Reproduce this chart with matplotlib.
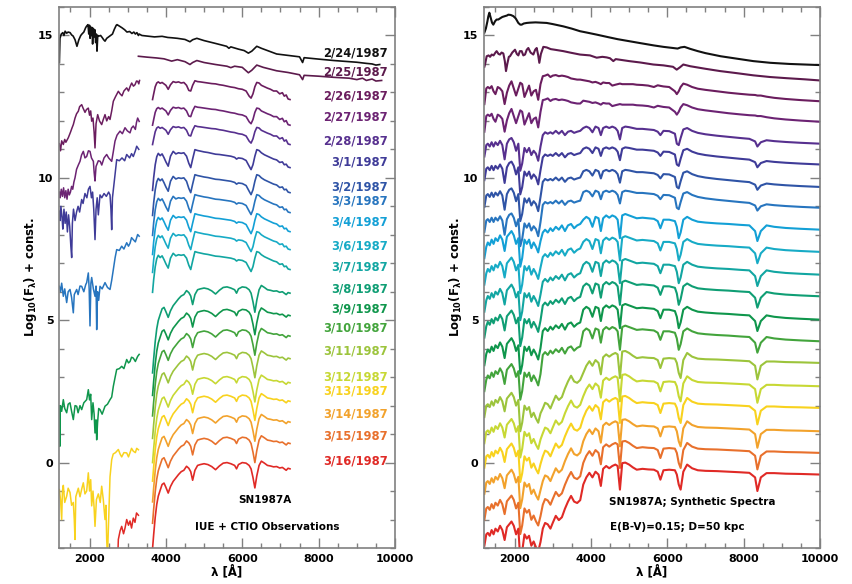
import numpy as np
import matplotlib.pyplot as plt
from matplotlib.ticker import MultipleLocator

# ---------------- epochs, colours, label positions ----------------
dates = ['2/24/1987', '2/25/1987', '2/26/1987', '2/27/1987', '2/28/1987',
         '3/1/1987', '3/2/1987', '3/3/1987', '3/4/1987', '3/6/1987',
         '3/7/1987', '3/8/1987', '3/9/1987', '3/10/1987', '3/11/1987',
         '3/12/1987', '3/13/1987', '3/14/1987', '3/15/1987', '3/16/1987']
colors = ['#111111', '#5c1a4c', '#6b1d5e', '#6c2373', '#57308f',
          '#3f3b98', '#2f54a6', '#2775bf', '#13a0d6', '#17abc6',
          '#12a6a2', '#0f9e74', '#0f964c', '#43a43c', '#9cc43c',
          '#c7d834', '#f8d21e', '#f2a22c', '#e8702c', '#e02a26']
label_y = [14.37, 13.73, 12.89, 12.12, 11.31, 10.54, 9.69, 9.17, 8.46, 7.59,
           6.88, 6.08, 5.41, 4.71, 3.93, 3.02, 2.53, 1.69, 0.95, 0.04]

# ---------------- left panel: IUE + CTIO observations ----------------
obs_0224_wave = [1210, 1225, 1260, 1300, 1330, 1360, 1400, 1440, 1490, 1530, 1570, 1620, 1670,
                 1720, 1770, 1800, 1850, 1900, 1930, 1960, 1980, 2000, 2015, 2030, 2050, 2064,
                 2080, 2100, 2120, 2140, 2160, 2180, 2195, 2215, 2250, 2290, 2330, 2370, 2405,
                 2450, 2500, 2550, 2600, 2650, 2700, 2720, 2780, 2850, 2920, 2980, 3050, 3110,
                 3160, 3200, 3240, 3280, 3300, 3370, 3500, 3700, 3900, 4050, 4150, 4300, 4500,
                 4630, 4700, 4810, 5000, 5300, 5590, 5650, 5700, 5900, 6050, 6160, 6250, 6380,
                 6500, 6700, 6900, 7200, 7500, 7580, 7620, 8000, 8400, 8800, 9000, 9250, 9400,
                 9500, 9600]
obs_0224_flux = [14.05, 14.9, 15.05, 15.1, 15.0, 15.15, 15.08, 15.12, 15.1, 15.02, 14.98, 14.85, 14.62,
                 14.85, 15.0, 15.05, 15.12, 15.28, 15.34, 15.38, 15.05, 15.36, 14.9, 15.3, 15.0, 15.28,
                 14.7, 15.25, 14.95, 15.2, 14.75, 15.05, 14.45, 15.0, 14.98, 15.0, 14.93, 14.85, 14.8,
                 14.9, 14.95, 15.0, 15.05, 15.22, 15.36, 15.38, 15.33, 15.27, 15.2, 15.12, 15.14, 15.07,
                 15.12, 15.05, 15.1, 15.0, 15.05, 15.0, 14.98, 14.95, 14.97, 14.93, 14.92, 14.9, 14.86,
                 14.78, 14.85, 14.9, 14.82, 14.72, 14.62, 14.55, 14.6, 14.52, 14.47, 14.38, 14.45, 14.62,
                 14.55, 14.45, 14.35, 14.3, 14.25, 14.05, 14.22, 14.17, 14.12, 14.08, 14.06, 14.02, 14.0,
                 13.96, 13.98]
obs_0225_wave = [3280, 3500, 3760, 3950, 4150, 4300, 4500, 4630, 4700, 4810, 5000, 5300, 5600,
                 5700, 5800, 6000, 6160, 6250, 6380, 6550, 6900, 7200, 7500, 7580, 7620, 8000,
                 8400, 8800, 9000, 9150, 9250, 9400, 9500, 9650]
obs_0225_flux = [14.27, 14.24, 14.21, 14.18, 14.1, 14.15, 14.08, 13.98, 14.05, 14.12, 14.05, 13.98, 13.92,
                 13.87, 13.92, 13.88, 13.69, 13.78, 13.96, 13.88, 13.76, 13.7, 13.62, 13.45, 13.6, 13.57,
                 13.53, 13.5, 13.45, 13.5, 13.42, 13.47, 13.4, 13.42]

# CTIO optical spectra 2/26 - 3/16: shape relative to the 7250 A level
opt_wave = [3650, 3680, 3720, 3760, 3800, 3850, 3900, 3950, 4000, 4060,
            4120, 4190, 4260, 4330, 4400, 4470, 4540, 4600, 4650, 4700,
            4760, 4830, 4900, 5000, 5100, 5200, 5300, 5400, 5500, 5600,
            5700, 5800, 5850, 5900, 6000, 6100, 6180, 6230, 6280, 6330,
            6380, 6440, 6500, 6580, 6660, 6740, 6820, 6900, 6980, 7050,
            7100, 7150, 7200, 7250]
opt_early = [0.0, 0.2, 0.45, 0.58, 0.62, 0.57, 0.6, 0.55, 0.5, 0.36,
             0.52, 0.63, 0.6, 0.62, 0.58, 0.6, 0.5, 0.32, 0.3, 0.5,
             0.66, 0.63, 0.62, 0.6, 0.58, 0.56, 0.55, 0.52, 0.5, 0.47,
             0.44, 0.42, 0.4, 0.38, 0.36, 0.3, 0.12, 0.05, 0.2, 0.45,
             0.6, 0.58, 0.5, 0.45, 0.4, 0.36, 0.3, 0.3, 0.2, 0.24,
             0.12, 0.16, 0.02, 0.0]
opt_mid = [-0.8, -0.35, 0.1, 0.38, 0.5, 0.42, 0.48, 0.35, 0.2, 0.05,
           0.4, 0.57, 0.48, 0.52, 0.5, 0.52, 0.4, 0.15, 0.0, 0.3,
           0.63, 0.6, 0.58, 0.55, 0.53, 0.5, 0.47, 0.46, 0.44, 0.42,
           0.4, 0.36, 0.3, 0.34, 0.32, 0.25, 0.05, -0.07, 0.1, 0.4,
           0.63, 0.6, 0.52, 0.45, 0.4, 0.35, 0.3, 0.27, 0.18, 0.2,
           0.1, 0.12, 0.02, 0.0]
opt_late = [-2.8, -2.3, -1.7, -1.25, -0.96, -0.75, -0.55, -0.5, -0.65, -0.85,
            -0.62, -0.44, -0.32, -0.2, -0.1, -0.05, 0.09, 0.02, -0.1, -0.4,
            -0.05, 0.12, 0.15, 0.18, 0.15, 0.08, -0.03, 0.1, 0.2, 0.22,
            0.18, 0.12, 0.0, 0.15, 0.22, 0.2, 0.12, 0.0, -0.3, -0.67,
            -0.25, 0.12, 0.27, 0.2, 0.12, 0.1, 0.07, 0.08, 0.03, 0.05,
            0.0, -0.05, 0.02, 0.0]
opt_dates = dates[2:]
opt_end = [12.75, 11.85, 11.17, 10.36, 9.48, 8.78, 8.11, 7.48, 6.78,
           5.95, 5.16, 4.44, 3.65, 2.8, 2.15, 1.42, 0.67, -0.22]
opt_shape = ['early'] * 3 + ['mid'] * 6 + ['late'] * 9

# IUE ultraviolet spectra
uv_dates = ['2/26/1987', '2/27/1987', '3/1/1987', '3/3/1987', '3/9/1987', '3/13/1987', '3/16/1987']
uv_wave = [
    [1210, 1240, 1270, 1313, 1350, 1380, 1444, 1500, 1540, 1575, 1620, 1660, 1706, 1740, 1794, 1830,
     1881, 1920, 1968, 2000, 2030, 2056, 2090, 2120, 2143, 2170, 2213, 2260, 2318, 2360, 2405, 2450,
     2500, 2536, 2580, 2623, 2680, 2754, 2800, 2850, 2900, 2973, 3020, 3060, 3104, 3150, 3190, 3230,
     3260, 3290, 3310],
    [1210, 1230, 1260, 1290, 1320, 1350, 1380, 1410, 1440, 1470, 1500, 1530, 1560, 1590, 1619, 1660,
     1706, 1750, 1790, 1837, 1880, 1925, 1970, 2012, 2050, 2100, 2120, 2143, 2170, 2230, 2280, 2320,
     2380, 2449, 2500, 2580, 2620, 2667, 2720, 2798, 2860, 2929, 2990, 3060, 3100, 3146, 3200, 3230,
     3260, 3300],
    [1210, 1230, 1250, 1280, 1300, 1330, 1360, 1390, 1420, 1450, 1480, 1510, 1532, 1550, 1580, 1620,
     1660, 1700, 1740, 1794, 1830, 1880, 1930, 1970, 2012, 2050, 2080, 2110, 2143, 2170, 2200, 2230,
     2274, 2320, 2380, 2440, 2500, 2536, 2560, 2580, 2600, 2650, 2711, 2780, 2850, 2920, 2973, 3050,
     3100, 3146, 3200, 3235, 3290],
    [1210, 1240, 1270, 1313, 1350, 1401, 1440, 1488, 1530, 1575, 1600, 1663, 1700, 1750, 1794, 1850,
     1900, 1925, 1968, 1990, 2012, 2035, 2056, 2100, 2143, 2170, 2187, 2210, 2240, 2274, 2330, 2405,
     2470, 2536, 2580, 2623, 2670, 2711, 2780, 2842, 2900, 2973, 3020, 3060, 3100, 3146, 3200, 3260,
     3300],
    [1210, 1220, 1235, 1270, 1313, 1350, 1401, 1440, 1488, 1530, 1575, 1620, 1663, 1700, 1750, 1794,
     1850, 1925, 1968, 2000, 2030, 2056, 2090, 2120, 2143, 2170, 2187, 2210, 2240, 2274, 2330, 2405,
     2470, 2536, 2580, 2623, 2670, 2711, 2780, 2842, 2900, 2973, 3020, 3060, 3100, 3146, 3200, 3260,
     3300],
    [1210, 1240, 1270, 1290, 1313, 1350, 1401, 1440, 1488, 1530, 1575, 1600, 1619, 1640, 1706, 1750,
     1800, 1837, 1880, 1925, 1968, 2000, 2030, 2056, 2090, 2120, 2143, 2180, 2230, 2280, 2318, 2360,
     2405, 2430, 2449, 2470, 2536, 2580, 2620, 2680, 2754, 2800, 2842, 2900, 2973, 3020, 3060, 3100,
     3146, 3200, 3235, 3280],
    [2740, 2754, 2800, 2842, 2890, 2929, 2973, 3020, 3060, 3100, 3146, 3190, 3230, 3280],
]
uv_flux = [
    [11.2, 10.95, 11.3, 11.17, 11.35, 11.25, 11.41, 11.6, 11.75, 11.87, 12.1, 12.25, 12.34, 12.5, 12.57, 12.45,
     12.3, 12.4, 12.45, 12.2, 12.35, 11.99, 12.1, 11.6, 11.05, 11.9, 12.22, 12.0, 11.87, 12.05, 12.22, 12.0,
     12.15, 12.05, 12.35, 12.69, 12.85, 13.04, 12.95, 12.88, 13.05, 13.16, 13.05, 13.2, 13.33, 13.22, 13.27, 13.4,
     13.39, 13.3, 13.42],
    [9.5, 9.3, 9.6, 9.35, 9.65, 9.3, 9.55, 9.25, 9.6, 9.4, 9.5, 9.7, 9.6, 9.85, 10.0, 10.3,
     10.45, 10.58, 10.8, 10.93, 10.7, 10.75, 10.95, 10.93, 10.7, 10.58, 10.2, 9.89, 10.4, 10.6, 10.58, 10.45,
     10.7, 10.82, 10.7, 10.58, 10.9, 11.29, 11.5, 11.64, 11.55, 11.76, 11.65, 11.58, 11.75, 11.82, 11.7, 11.95,
     12.1, 11.98],
    [8.83, 8.5, 9.0, 8.6, 8.2, 8.9, 8.4, 8.8, 8.1, 8.7, 8.3, 7.6, 7.2, 8.4, 8.9, 8.5,
     8.8, 9.0, 8.8, 9.24, 9.1, 9.45, 9.3, 9.6, 9.7, 9.3, 9.5, 8.9, 7.83, 8.9, 9.3, 8.7,
     9.4, 9.3, 9.45, 9.35, 9.5, 9.4, 8.9, 8.18, 9.3, 9.9, 10.64, 10.6, 10.7, 10.6, 10.82, 10.7,
     10.85, 10.75, 10.95, 11.11, 11.0],
    [6.19, 6.0, 6.3, 5.84, 6.1, 5.62, 6.0, 6.08, 5.8, 5.26, 5.9, 6.08, 5.9, 6.2, 6.19, 6.0,
     6.25, 6.32, 6.66, 6.1, 4.8, 6.3, 6.5, 6.1, 5.84, 6.2, 4.67, 6.0, 5.7, 6.19, 6.1, 6.32,
     6.15, 6.08, 6.4, 6.78, 7.2, 7.48, 7.45, 7.6, 7.5, 7.72, 7.6, 7.7, 7.9, 7.83, 7.75, 8.01,
     7.95],
    [1.98, 0.57, 2.0, 1.8, 2.21, 1.9, 1.75, 2.05, 2.1, 1.8, 1.51, 2.0, 1.98, 1.75, 2.0, 1.86,
     2.1, 2.21, 2.56, 2.2, 2.4, 1.51, 2.1, 1.7, 1.04, 1.5, 0.8, 1.4, 1.9, 1.86, 1.7, 1.98,
     2.05, 2.21, 2.3, 2.68, 3.0, 3.27, 3.3, 3.38, 3.3, 3.62, 3.5, 3.55, 3.7, 3.67, 3.55, 3.73,
     3.8],
    [-0.95, -1.3, -2.0, -1.0, -0.8, -1.4, -1.18, -0.9, -1.05, -1.5, -1.4, -2.0, -2.7, -1.2, -0.9, -1.2,
     -0.9, -0.71, -1.1, -1.0, -0.36, -1.0, -0.6, -1.52, -1.0, -1.6, -2.24, -1.3, -1.1, -1.4, -0.83, -1.3,
     -2.0, -1.5, -2.7, -3.3, -0.5, 0.1, 0.3, 0.35, 0.46, 0.3, 0.2, 0.35, 0.34, 0.2, 0.35, 0.5,
     0.4, 0.35, 0.5, 0.45],
    [-3.3, -2.7, -2.4, -2.24, -2.5, -2.3, -2.0, -2.2, -2.05, -2.3, -1.95, -2.1, -1.77, -1.85],
]

# ---------------- right panel: synthetic spectra ----------------
syn_0224_wave = [1210, 1250, 1290, 1313, 1340, 1370, 1410, 1444, 1490, 1530, 1575, 1620, 1680, 1750,
                 1800, 1837, 1900, 1968, 2030, 2099, 2150, 2187, 2240, 2318, 2400, 2550, 2700, 2842,
                 3000, 3277, 3500, 3714, 3900, 4151, 4456, 4700, 5000, 5300, 5650, 5900, 6150, 6270,
                 6350, 6450, 6600, 6800, 7000, 7400, 7800, 8250, 8700, 9200, 9600, 10000]
syn_0224_flux = [15.1, 15.25, 15.5, 15.67, 15.8, 15.65, 15.45, 15.38, 15.5, 15.56, 15.56, 15.6, 15.65, 15.68,
                 15.7, 15.73, 15.72, 15.68, 15.6, 15.44, 15.38, 15.38, 15.42, 15.44, 15.45, 15.46, 15.45, 15.44,
                 15.4, 15.32, 15.24, 15.15, 15.1, 15.03, 14.94, 14.87, 14.8, 14.73, 14.65, 14.6, 14.56, 14.54,
                 14.58, 14.6, 14.53, 14.45, 14.38, 14.27, 14.19, 14.1, 14.04, 14.0, 13.98, 13.96]
syn_0225_wave = [1210, 1230, 1270, 1320, 1360, 1401, 1450, 1500, 1531, 1580, 1619, 1660, 1706, 1745,
                 1776, 1810, 1850, 1881, 1940, 2012, 2060, 2099, 2140, 2187, 2230, 2274, 2320, 2361,
                 2420, 2492, 2540, 2580, 2620, 2649, 2690, 2754, 2842, 2950, 3050, 3277, 3452, 3714,
                 3976, 4151, 4300, 4413, 4500, 4587, 4650, 5000, 5300, 5634, 5900, 6150, 6247, 6330,
                 6420, 6600, 7000, 7381, 7800, 8253, 8700, 9127, 9600, 10000]
syn_0225_flux = [13.9, 14.0, 14.27, 14.3, 14.25, 14.33, 14.3, 14.4, 14.45, 14.35, 14.33, 14.4, 14.37, 14.1,
                 13.75, 14.0, 14.25, 14.27, 14.4, 14.5, 14.35, 14.3, 14.45, 14.45, 14.3, 14.33, 14.5, 14.56,
                 14.4, 14.33, 14.5, 14.56, 14.3, 14.04, 14.35, 14.6, 14.58, 14.52, 14.5, 14.45, 14.4, 14.33,
                 14.3, 14.22, 14.25, 14.23, 14.2, 14.1, 14.17, 14.1, 14.05, 13.98, 13.95, 13.9, 13.8, 13.88,
                 13.98, 13.92, 13.83, 13.75, 13.68, 13.6, 13.54, 13.5, 13.46, 13.42]

# synthetic spectra 2/26 - 3/16: shape relative to the 10000 A level
syn_wave = [1210, 1260, 1300, 1350, 1400, 1450, 1500, 1560, 1620, 1680,
            1740, 1800, 1860, 1920, 1980, 2040, 2100, 2150, 2200, 2260,
            2320, 2380, 2440, 2500, 2560, 2620, 2680, 2740, 2800, 2870,
            2940, 3000, 3080, 3160, 3240, 3320, 3400, 3480, 3560, 3640,
            3720, 3800, 3880, 3960, 4040, 4120, 4200, 4260, 4320, 4400,
            4480, 4560, 4640, 4700, 4760, 4820, 4900, 5000, 5100, 5200,
            5350, 5500, 5650, 5750, 5820, 5900, 6050, 6200, 6250, 6300,
            6350, 6420, 6520, 6650, 6800, 7000, 7300, 7600, 7900, 8150,
            8300, 8360, 8450, 8600, 8800, 9100, 9500, 10000]
syn_C = [-0.1, 0.45, 0.5, 0.45, 0.53, 0.35, 0.25, 0.5, 0.45, 0.35,
         -0.1, 0.3, 0.55, 0.7, 0.45, 0.2, 0.45, 0.65, 0.6, 0.15,
         0.35, 0.55, 0.2, 0.35, 0.4, 0.05, 0.6, 0.88, 0.9, 0.94,
         0.85, 0.9, 0.92, 0.88, 0.9, 0.88, 0.85, 0.8, 0.78, 0.76,
         0.76, 0.74, 0.72, 0.7, 0.66, 0.68, 0.64, 0.6, 0.66, 0.64,
         0.64, 0.55, 0.58, 0.6, 0.62, 0.6, 0.6, 0.6, 0.6, 0.58,
         0.57, 0.55, 0.5, 0.56, 0.54, 0.52, 0.5, 0.35, 0.25, 0.35,
         0.5, 0.62, 0.58, 0.5, 0.44, 0.4, 0.35, 0.3, 0.26, 0.23,
         0.22, 0.2, 0.2, 0.16, 0.12, 0.08, 0.04, 0.0]
syn_D = [-0.45, -0.05, 0.0, -0.1, 0.05, -0.1, 0.05, -0.05, 0.1, -0.05,
         -0.55, 0.0, 0.15, 0.2, 0.05, -0.25, 0.0, -0.95, -0.7, -0.15,
         -0.3, -0.15, -0.4, -0.25, -0.35, -0.6, -0.1, 0.3, 0.4, 0.35,
         0.4, 0.35, 0.45, 0.35, 0.45, 0.3, 0.42, 0.45, 0.38, 0.42,
         0.45, 0.55, 0.6, 0.55, 0.4, 0.6, 0.55, 0.3, 0.55, 0.6,
         0.55, 0.6, 0.55, 0.45, 0.15, 0.55, 0.6, 0.58, 0.55, 0.52,
         0.52, 0.5, 0.48, 0.42, 0.3, 0.45, 0.44, 0.35, 0.0, -0.05,
         0.2, 0.5, 0.55, 0.45, 0.38, 0.33, 0.28, 0.24, 0.2, 0.17,
         0.08, -0.1, 0.05, 0.12, 0.09, 0.06, 0.03, 0.0]
syn_E = [-1.2, -0.8, -0.65, -0.75, -0.55, -0.7, -0.5, -0.6, -0.4, -0.55,
         -0.95, -0.45, -0.35, -0.25, -0.4, -0.7, -0.5, -1.5, -1.2, -0.55,
         -0.7, -0.55, -0.85, -0.65, -0.8, -1.0, -0.6, -0.2, -0.1, -0.2,
         -0.05, -0.15, 0.0, -0.1, 0.05, -0.15, 0.05, 0.1, -0.05, 0.05,
         0.1, 0.35, 0.45, 0.38, 0.1, 0.45, 0.4, -0.05, 0.4, 0.5,
         0.42, 0.5, 0.45, 0.35, -0.3, 0.5, 0.55, 0.5, 0.45, 0.4,
         0.42, 0.4, 0.38, 0.3, 0.05, 0.35, 0.35, 0.3, 0.1, -0.3,
         -0.1, 0.35, 0.45, 0.35, 0.28, 0.25, 0.22, 0.2, 0.17, 0.15,
         -0.05, -0.4, -0.05, 0.15, 0.1, 0.06, 0.03, 0.0]
syn_F = [-2.3, -1.9, -1.85, -1.95, -1.75, -1.9, -1.7, -1.8, -1.6, -1.75,
         -2.1, -1.65, -1.55, -1.45, -1.6, -1.9, -1.7, -2.8, -2.5, -1.9,
         -2.05, -1.95, -2.3, -2.15, -2.35, -2.5, -2.17, -1.8, -1.6, -1.65,
         -1.8, -1.6, -1.35, -1.5, -1.4, -1.1, -0.85, -0.65, -0.85, -0.9,
         -0.8, -0.35, -0.1, 0.06, -0.1, 0.1, 0.0, -0.4, 0.2, 0.3,
         0.22, 0.3, 0.35, 0.3, -0.53, 0.4, 0.42, 0.35, 0.25, 0.17,
         0.2, 0.18, 0.17, 0.1, -0.18, 0.15, 0.17, 0.15, 0.0, -0.35,
         -0.53, 0.1, 0.35, 0.22, 0.15, 0.13, 0.12, 0.1, 0.08, 0.06,
         -0.1, -0.58, -0.1, 0.05, 0.05, 0.03, 0.02, 0.0]
syn_end = [12.69, 11.97, 11.20, 10.47, 9.68, 8.95, 8.18, 7.40, 6.60,
           5.84, 5.02, 4.26, 3.50, 2.68, 1.92, 1.10, 0.34, -0.42]
syn_shape = ['C'] * 2 + ['D'] * 4 + ['E'] * 6 + ['F'] * 6
# per-epoch shift of the far-UV (< 2710 A) and near-UV (2710-3760 A) parts
syn_uv_adj = [0.0, -0.25, 0.0, -0.1, -0.25, -0.4, 0.2, 0.05, -0.1, -0.25, -0.4, -0.55,
              0.4, 0.3, 0.2, 0.1, -0.05, -0.2]
syn_nuv_adj = [0.0, -0.12, 0.0, -0.05, -0.12, -0.2, 0.1, 0.02, -0.05, -0.12, -0.2, -0.28,
               0.2, 0.15, 0.1, 0.05, -0.02, -0.1]


def style_axes(ax):
    ax.set_xlim(1200, 10000)
    ax.set_ylim(-3, 16)
    ax.xaxis.set_major_locator(MultipleLocator(2000))
    ax.xaxis.set_minor_locator(MultipleLocator(500))
    ax.yaxis.set_major_locator(MultipleLocator(5))
    ax.yaxis.set_minor_locator(MultipleLocator(1))
    ax.tick_params(which='both', direction='in', top=True, right=True,
                   color='#808080', width=1.0, labelsize=8, pad=4)
    ax.tick_params(which='major', length=7)
    ax.tick_params(which='minor', length=3.5)
    for sp in ax.spines.values():
        sp.set_color('#808080')
        sp.set_linewidth(1.2)
    for lab in ax.get_xticklabels() + ax.get_yticklabels():
        lab.set_fontweight('bold')
    ax.set_xlabel('λ [Å]', fontsize=8.5, fontweight='bold', labelpad=1)
    ax.set_ylabel(r'Log$_{\mathbf{10}}$(F$_{\boldsymbol{\lambda}}$) + const.',
                  fontsize=8.5, fontweight='bold', labelpad=-1)


fig = plt.figure(figsize=(8.52, 5.84), dpi=100)
ax1 = fig.add_axes([59 / 852, 36 / 584, 336 / 852, 541 / 584])
ax2 = fig.add_axes([484 / 852, 36 / 584, 336 / 852, 541 / 584])

# left panel
opt_templates = {'early': opt_early, 'mid': opt_mid, 'late': opt_late}
ax1.plot(obs_0224_wave, obs_0224_flux, color=colors[0], lw=1.2)
ax1.plot(obs_0225_wave, obs_0225_flux, color=colors[1], lw=1.2)
for d, lev, shp in zip(opt_dates, opt_end, opt_shape):
    c = colors[dates.index(d)]
    ax1.plot(opt_wave, np.array(opt_templates[shp]) + lev, color=c, lw=1.2)
for d, w, f in zip(uv_dates, uv_wave, uv_flux):
    ax1.plot(w, f, color=colors[dates.index(d)], lw=1.1)
for d, c, y in zip(dates, colors, label_y):
    ax1.text(9820, y, d, color=c, fontsize=8.3, fontweight='bold',
             ha='right', va='center')
ax1.text(6600, -1.3, 'SN1987A', fontsize=7.5, fontweight='bold', ha='center', va='center')
ax1.text(6650, -2.25, 'IUE + CTIO Observations', fontsize=7.5, fontweight='bold',
         ha='center', va='center')
style_axes(ax1)

# right panel
syn_templates = {'C': syn_C, 'D': syn_D, 'E': syn_E, 'F': syn_F}
sw = np.array(syn_wave)
ax2.plot(syn_0224_wave, syn_0224_flux, color=colors[0], lw=1.5)
ax2.plot(syn_0225_wave, syn_0225_flux, color=colors[1], lw=1.5)
for i, (lev, shp) in enumerate(zip(syn_end, syn_shape)):
    shift = np.where(sw < 2710, syn_uv_adj[i], np.where(sw < 3760, syn_nuv_adj[i], 0.0))
    ax2.plot(sw, np.array(syn_templates[shp]) + lev + shift, color=colors[i + 2], lw=1.5)
ax2.text(6650, -1.4, 'SN1987A; Synthetic Spectra', fontsize=7.5, fontweight='bold',
         ha='center', va='center')
ax2.text(6250, -2.28, 'E(B-V)=0.15; D=50 kpc', fontsize=7.5, fontweight='bold',
         ha='center', va='center')
style_axes(ax2)

fig.savefig('out.png', dpi=100)
